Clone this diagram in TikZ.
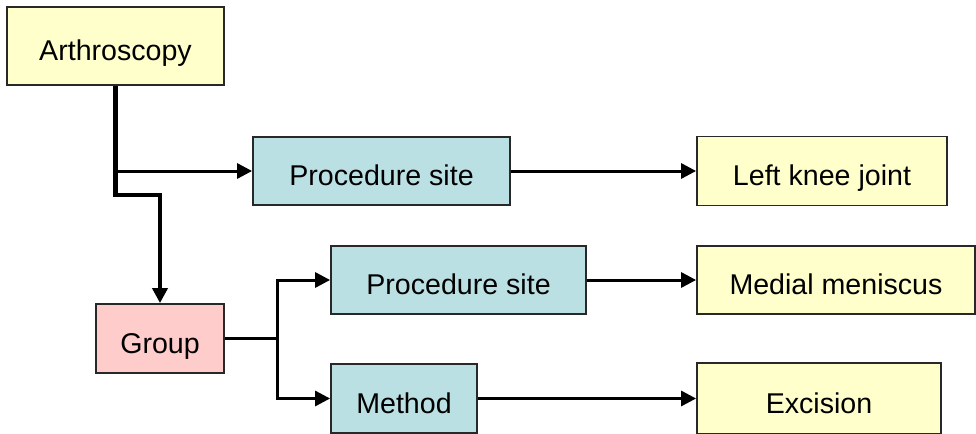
\documentclass[tikz,border=0pt]{standalone}
\usepackage{fontspec}
\setmainfont{Liberation Sans}
\usetikzlibrary{arrows.meta}
\definecolor{boxyellow}{RGB}{255,255,204}
\definecolor{boxblue}{RGB}{187,224,227}
\definecolor{boxpink}{RGB}{255,204,204}
\definecolor{edgegray}{RGB}{40,40,40}
\tikzset{
  box/.style={draw=edgegray, line width=0.9pt, inner sep=0pt, text height=14.8pt, text depth=0pt, font=\fontsize{14.3}{17}\selectfont, text=black},
  ybox/.style={box, fill=boxyellow},
  bbox/.style={box, fill=boxblue},
  pbox/.style={box, fill=boxpink},
  conn/.style={line width=1.5pt, -{Triangle[length=7.5pt,width=7.5pt]}},
  thickconn/.style={line width=2.2pt, -{Triangle[length=7.5pt,width=7.5pt]}},
}
\begin{document}
\begin{tikzpicture}[x=0.5pt,y=-0.5pt]
\useasboundingbox (0,0) rectangle (976,434);
\node[ybox, minimum width=108.5pt, minimum height=39pt] (A) at (115.5,46) {Arthroscopy};
\node[bbox, minimum width=128.5pt, minimum height=34pt] (PS1) at (381.5,171) {Procedure site};
\node[ybox, minimum width=125pt, minimum height=34.5pt] (LKJ) at (822,171) {Left knee joint};
\node[pbox, minimum width=64pt, minimum height=34.5pt] (G) at (160,338.5) {Group};
\node[bbox, minimum width=127.5pt, minimum height=34pt] (PS2) at (458.5,280) {Procedure site};
\node[ybox, minimum width=139pt, minimum height=34pt] (MM) at (836,280) {Medial meniscus};
\node[bbox, minimum width=73pt, minimum height=34.5pt] (M) at (404,398.5) {Method};
\node[ybox, minimum width=122pt, minimum height=35.5pt] (E) at (819,398.5) {Excision};
\coordinate (bend) at (115.5,195);
\coordinate (split) at (277,338.5);
\draw[conn] (A.south) |- (PS1.west);
\draw[thickconn] (A.south) -- (bend) -| (G.north);
\draw[conn] (PS1.east) -- (LKJ.west);
\draw[line width=1.5pt] (G.east) -- (split);
\draw[conn] (split) |- (PS2.west);
\draw[conn] (split) |- (M.west);
\draw[conn] (PS2.east) -- (MM.west);
\draw[conn] (M.east) -- (E.west);
\end{tikzpicture}
\end{document}
